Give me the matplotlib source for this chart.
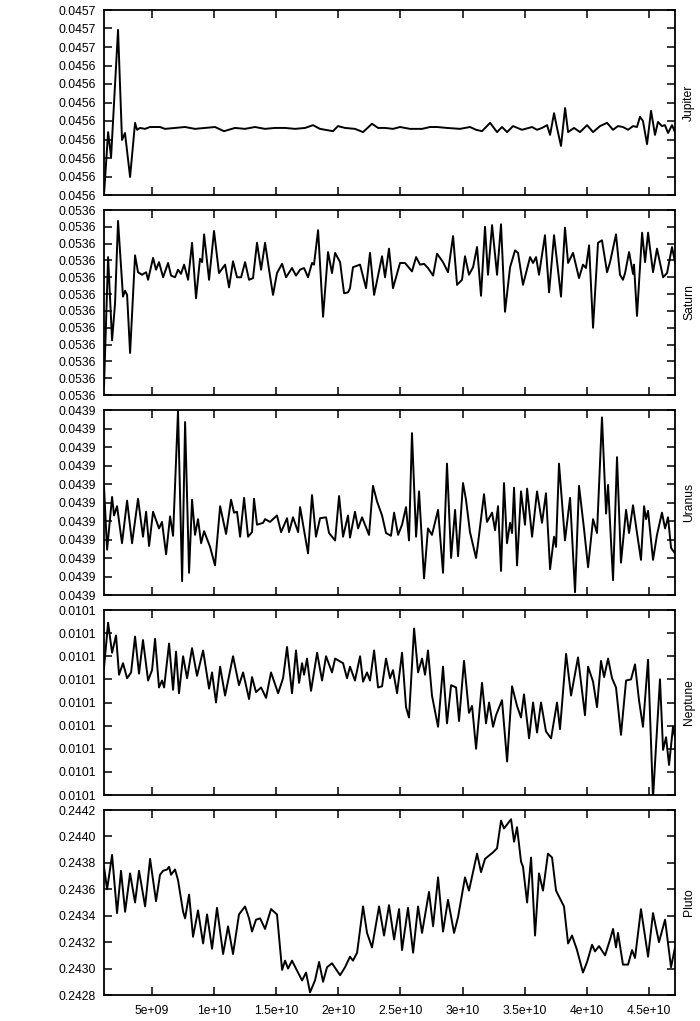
import numpy as np
import matplotlib
matplotlib.use("Agg")
import matplotlib.pyplot as plt
from matplotlib.ticker import FormatStrFormatter, FuncFormatter

plt.rcParams['font.family'] = ['Liberation Sans', 'DejaVu Sans']
plt.rcParams['font.size'] = 8.7

# time in units of 1e9, values of the first four planets as offsets (1e-6) above a base
jupiter_t = [1.13, 1.46, 1.70, 2.26, 2.58, 2.82, 3.23, 3.63, 3.79, 4.03, 4.43, 4.84, 5.64, 6.04, 6.85,
             7.65, 8.46, 9.26, 10.07, 10.79, 11.68, 12.48, 13.29, 14.09, 14.90, 15.70, 16.51, 17.32,
             17.96, 18.52, 19.57, 19.97, 20.54, 21.34, 21.99, 22.71, 23.20, 23.76, 24.40, 24.97, 25.77,
             26.74, 27.38, 27.95, 28.75, 29.80, 30.60, 31.09, 31.57, 32.22, 32.78, 33.18, 33.59, 34.07,
             34.79, 35.60, 36.00, 36.40, 36.81, 37.05, 37.37, 37.61, 37.93, 38.26, 38.50, 38.98, 39.46,
             40.03, 40.51, 41.07, 41.64, 42.12, 42.52, 42.92, 43.33, 43.73, 44.05, 44.29, 44.53, 44.86,
             45.18, 45.50, 45.74, 46.06, 46.30, 46.55, 46.87, 47.11]
jupiter_dev = [0, 13.6, 8.2, 35.7, 11.9, 13.4, 3.9, 15.6, 14.1, 14.5, 14.3, 14.7, 14.7, 14.3, 14.5,
               14.7, 14.3, 14.5, 14.7, 13.8, 14.5, 14.3, 14.7, 14.3, 14.5, 14.5, 14.3, 14.5,
               15.1, 14.3, 13.8, 14.9, 14.5, 14.3, 13.6, 15.4, 14.5, 14.5, 14.3, 14.7, 14.3,
               14.3, 14.7, 14.7, 14.5, 14.3, 14.7, 14.1, 13.8, 15.6, 13.6, 14.7, 13.6, 14.9,
               14.1, 14.7, 14.1, 14.5, 15.1, 13.0, 17.7, 14.5, 10.6, 18.8, 13.6, 14.5, 13.6,
               15.1, 13.6, 14.9, 15.6, 14.1, 14.9, 14.7, 14.1, 14.9, 14.7, 16.9, 16.0, 11.0,
               18.2, 13.0, 15.8, 14.9, 15.1, 13.4, 15.1, 13.6]

saturn_t = [1.13, 1.46, 1.78, 2.02, 2.26, 2.66, 2.83, 2.99, 3.23, 3.63, 3.87, 4.19, 4.52, 4.68, 5.08,
            5.32, 5.56, 5.89, 6.29, 6.53, 6.85, 7.09, 7.33, 7.58, 7.90, 8.22, 8.54, 8.86, 9.03, 9.19,
            9.59, 9.99, 10.39, 10.88, 11.20, 11.52, 11.84, 12.17, 12.49, 12.81, 13.13, 13.45, 13.78,
            14.10, 14.42, 14.74, 15.06, 15.47, 15.79, 16.27, 16.59, 16.92, 17.24, 17.56, 17.88, 18.04,
            18.37, 18.77, 19.17, 19.49, 19.74, 20.14, 20.46, 20.78, 20.94, 21.18, 21.75, 22.23, 22.55,
            22.88, 23.52, 23.76, 24.08, 24.40, 24.97, 25.37, 25.93, 26.26, 26.58, 26.90, 27.22, 27.63,
            27.95, 28.43, 28.83, 29.24, 29.56, 29.96, 30.20, 30.52, 30.85, 31.17, 31.49, 31.81, 32.05,
            32.38, 32.78, 33.10, 33.42, 33.83, 34.23, 34.47, 34.87, 35.44, 35.68, 35.92, 36.16, 36.64,
            36.97, 37.37, 37.93, 38.25, 38.50, 38.90, 39.38, 39.70, 39.94, 40.19, 40.51, 40.91, 41.23,
            41.64, 41.88, 42.36, 42.68, 42.92, 43.09, 43.41, 43.73, 43.81, 44.05, 44.46, 44.70, 44.94,
            45.34, 45.66, 46.15, 46.47, 46.87, 47.11]
saturn_dev = [1.0, 16.4, 6.5, 10.9, 20.7, 11.7, 12.4, 11.9, 5.0, 16.6, 14.6, 14.3, 14.6, 13.7, 16.3,
              14.9, 15.8, 14.0, 15.7, 14.2, 14.0, 14.9, 14.4, 15.5, 13.7, 18.1, 11.5, 16.2, 15.8, 19.1,
              13.7, 19.5, 14.5, 15.5, 12.8, 15.9, 14.0, 14.0, 15.8, 13.7, 13.9, 18.1, 14.9,
              18.1, 14.9, 11.9, 14.5, 15.6, 14.0, 15.1, 14.2, 14.9, 15.1, 14.0, 15.7, 15.5,
              19.6, 9.3, 17.0, 14.5, 16.9, 15.8, 12.1, 12.2, 12.7, 15.2, 15.5, 12.7, 16.9,
              11.9, 16.5, 14.0, 17.4, 12.7, 15.7, 15.7, 14.7, 16.4, 15.5, 15.6, 15.1, 14.2,
              16.8, 15.8, 14.6, 18.9, 13.1, 13.7, 16.5, 14.3, 15.2, 17.6, 11.8, 20.0, 14.3,
              20.2, 14.3, 20.3, 9.9, 15.2, 17.2, 16.9, 13.1, 16.4, 15.7, 16.4, 14.3, 19.0,
              12.2, 19.0, 11.7, 19.9, 15.7, 16.9, 13.9, 15.5, 15.1, 17.8, 8.0, 18.1, 18.4,
              14.6, 15.8, 19.1, 14.3, 13.7, 14.5, 17.0, 14.4, 15.5, 9.4, 19.3, 15.8, 19.3,
              14.6, 17.4, 14.0, 14.5, 17.6, 15.8]

uranus_t = [1.13, 1.38, 1.78, 1.94, 2.18, 2.58, 2.99, 3.39, 3.87, 4.27, 4.52, 4.76, 5.08, 5.56, 5.80,
            6.13, 6.45, 6.69, 7.09, 7.42, 7.66, 7.98, 8.22, 8.46, 8.70, 8.95, 9.19, 9.67, 10.07, 10.48,
            10.96, 11.36, 11.60, 11.84, 12.09, 12.41, 12.73, 13.05, 13.21, 13.45, 13.94, 14.10, 14.50,
            15.06, 15.39, 15.87, 16.03, 16.35, 16.76, 16.92, 17.24, 17.56, 17.88, 18.20, 18.53, 19.01,
            19.25, 19.74, 20.06, 20.38, 20.78, 20.94, 21.34, 21.59, 21.91, 22.47, 22.79, 23.12, 23.52,
            23.84, 24.24, 24.49, 24.81, 25.13, 25.45, 25.69, 25.93, 26.26, 26.50, 26.90, 27.22, 27.54,
            28.03, 28.43, 28.75, 29.08, 29.40, 29.64, 30.04, 30.28, 30.60, 31.09, 31.25, 31.73, 31.97,
            32.38, 32.62, 32.86, 33.10, 33.34, 33.58, 33.83, 33.99, 34.15, 34.39, 34.71, 35.03, 35.20,
            35.60, 36.00, 36.40, 36.72, 37.05, 37.37, 37.53, 37.77, 38.25, 38.66, 39.06, 39.38, 39.78,
            40.11, 40.51, 40.83, 41.23, 41.56, 41.72, 42.12, 42.44, 42.76, 43.17, 43.41, 43.73, 44.05,
            44.37, 44.62, 44.78, 44.94, 45.34, 45.66, 46.06, 46.31, 46.55, 46.79, 47.11]
uranus_dev = [11.7, 4.9, 10.6, 8.6, 9.6, 5.6, 10.2, 5.6, 10.4, 6.3, 9.0, 5.3, 9.0, 7.2, 7.9,
              4.4, 8.5, 6.4, 19.9, 1.5, 18.7, 2.4, 10.3, 6.5, 8.2, 5.6, 6.9, 5.2, 3.2, 9.6,
              6.6, 10.3, 8.9, 9.0, 6.3, 10.5, 6.3, 6.8, 10.4, 7.6, 7.8, 8.2, 7.9,
              8.6, 6.8, 8.3, 6.8, 8.4, 6.8, 9.5, 7.0, 4.5, 10.8, 6.3, 8.3, 8.4,
              6.7, 5.9, 10.7, 6.3, 8.6, 6.2, 9.0, 7.2, 8.4, 6.5, 11.8, 10.1, 8.6,
              6.7, 6.4, 8.9, 6.5, 7.6, 9.5, 5.9, 17.5, 6.3, 11.2, 1.8, 7.2, 6.5,
              9.2, 2.4, 14.2, 4.0, 9.2, 4.2, 12.1, 10.3, 6.8, 4.0, 5.6, 10.9, 7.9,
              8.9, 7.0, 9.6, 2.6, 12.1, 5.6, 7.8, 6.7, 11.6, 3.2, 11.2, 7.6, 11.5,
              6.3, 11.2, 7.8, 11.0, 2.8, 6.3, 5.2, 14.2, 5.9, 10.5, 0.3, 11.8, 7.2,
              3.0, 8.2, 6.7, 19.2, 8.8, 11.9, 1.6, 14.9, 3.5, 9.2, 6.7, 9.7, 6.7,
              3.8, 9.6, 8.2, 9.1, 3.8, 6.5, 8.9, 7.2, 8.4, 5.1, 4.5]

neptune_t = [1.13, 1.46, 1.78, 2.10, 2.34, 2.66, 2.99, 3.31, 3.63, 3.95, 4.27, 4.68, 5.00, 5.24, 5.56,
             5.80, 5.97, 6.37, 6.69, 6.93, 7.17, 7.50, 7.82, 8.22, 8.62, 9.11, 9.59, 9.83, 10.15, 10.48,
             10.88, 11.52, 12.00, 12.33, 12.81, 13.05, 13.37, 13.78, 14.18, 14.58, 15.15, 15.55, 15.87,
             16.27, 16.59, 16.84, 17.08, 17.24, 17.48, 17.80, 18.29, 18.69, 19.01, 19.49, 19.74, 20.38,
             20.70, 20.94, 21.34, 21.75, 21.99, 22.31, 22.55, 22.88, 23.20, 23.52, 23.84, 24.16, 24.40,
             24.73, 25.13, 25.45, 25.69, 26.10, 26.42, 26.74, 26.98, 27.22, 27.54, 28.03, 28.43, 28.75,
             29.08, 29.48, 29.72, 30.12, 30.52, 30.77, 31.09, 31.57, 31.89, 32.14, 32.46, 32.70, 33.18,
             33.59, 33.99, 34.39, 34.71, 34.95, 35.36, 35.68, 36.00, 36.32, 36.72, 37.13, 37.61, 37.85,
             38.34, 38.74, 39.30, 39.86, 40.11, 40.51, 40.83, 41.15, 41.40, 41.72, 42.04, 42.36, 42.76,
             43.17, 43.57, 43.89, 44.21, 44.53, 44.94, 45.34, 45.58, 45.90, 46.15, 46.39, 46.63, 46.95,
             47.11]
neptune_dev = [11.0, 14.9, 12.3, 13.8, 10.4, 11.4, 10.1, 10.6, 13.7, 10.5, 13.4, 9.9, 10.8, 13.5, 9.3,
               9.9, 9.3, 13.1, 9.1, 12.4, 8.8, 12.0, 10.1, 12.7, 10.3, 12.5, 9.2, 10.6, 8.0, 11.1,
               8.6, 12.0, 9.5, 10.6, 8.3, 10.2, 8.9, 9.3, 8.4, 10.6, 8.8, 10.1, 12.8,
               8.8, 12.5, 9.7, 11.4, 10.4, 11.8, 9.0, 12.3, 9.9, 12.0, 10.6, 11.8, 11.4,
               10.1, 11.1, 9.9, 12.0, 9.8, 10.6, 9.9, 12.5, 9.3, 9.4, 11.8, 10.1, 10.8,
               8.8, 12.3, 7.6, 6.7, 14.4, 10.6, 11.8, 10.4, 12.5, 8.6, 5.9, 11.1, 6.2,
               9.5, 9.3, 6.4, 11.6, 7.1, 7.7, 4.0, 9.7, 6.2, 8.0, 5.9, 6.9, 8.2,
               2.9, 9.4, 7.7, 6.7, 8.7, 4.9, 8.0, 5.4, 8.0, 5.5, 4.9, 8.0, 5.7,
               12.2, 8.6, 11.9, 6.9, 11.1, 9.8, 7.6, 11.6, 10.2, 11.8, 10.1, 9.3, 5.2,
               9.9, 10.0, 11.3, 8.2, 5.9, 11.7, -0.3, 4.2, 10.0, 3.9, 5.0, 2.6, 5.9,
               5.0]

pluto_t = [1.13, 1.38, 1.78, 2.18, 2.50, 2.83, 3.23, 3.63, 3.95, 4.44, 4.84, 5.32, 5.64, 5.89, 6.21,
           6.37, 6.53, 6.85, 7.09, 7.50, 7.66, 7.98, 8.30, 8.70, 9.11, 9.43, 9.83, 10.23, 10.72, 11.12,
           11.52, 12.00, 12.49, 12.81, 13.05, 13.37, 13.70, 14.10, 14.58, 15.06, 15.47, 15.71, 15.95,
           16.27, 16.59, 17.08, 17.40, 17.72, 18.12, 18.45, 18.77, 19.09, 19.49, 20.14, 20.54, 20.94,
           21.18, 21.51, 21.99, 22.31, 22.71, 23.28, 23.68, 24.08, 24.49, 24.89, 25.13, 25.61, 26.02,
           26.42, 26.74, 27.30, 27.63, 28.03, 28.43, 28.83, 29.32, 29.64, 30.20, 30.52, 31.17, 31.49,
           31.81, 32.46, 32.78, 33.10, 33.34, 33.91, 34.15, 34.39, 34.71, 34.87, 35.20, 35.52, 35.84,
           36.16, 36.48, 36.88, 37.21, 37.53, 38.17, 38.50, 38.82, 39.22, 39.70, 40.03, 40.43, 40.67,
           40.99, 41.48, 41.88, 42.12, 42.36, 42.52, 42.92, 43.33, 43.65, 43.89, 44.37, 44.94, 45.34,
           45.82, 46.31, 46.79, 47.11]
pluto_val = [0.24377, 0.24360, 0.24386, 0.24342, 0.24374, 0.24343, 0.24372, 0.24350, 0.24374, 0.24347,
             0.24383, 0.24351, 0.24371, 0.24374, 0.24375, 0.24377, 0.24371, 0.24375, 0.24367, 0.24343,
             0.24338, 0.24356, 0.24324, 0.24344, 0.24319, 0.24341, 0.24315, 0.24346, 0.24311, 0.24332,
             0.24311, 0.24341, 0.24347, 0.24338, 0.24328, 0.24337, 0.24338, 0.24330, 0.24345, 0.24341,
             0.24299, 0.24306, 0.24300, 0.24306, 0.24300, 0.24291, 0.24297, 0.24282, 0.24291, 0.24305,
             0.24290, 0.24301, 0.24304, 0.24295, 0.24301, 0.24309, 0.24306, 0.24312, 0.24347, 0.24327,
             0.24316, 0.24347, 0.24325, 0.24348, 0.24322, 0.24345, 0.24314, 0.24346, 0.24312, 0.24347,
             0.24327, 0.24358, 0.24332, 0.24369, 0.24328, 0.24352, 0.24327, 0.24339, 0.24369, 0.24359,
             0.24387, 0.24373, 0.24383, 0.24388, 0.24391, 0.24412, 0.24406, 0.24413, 0.24396, 0.24407,
             0.24381, 0.24377, 0.24350, 0.24384, 0.24325, 0.24372, 0.24359, 0.24387, 0.24384, 0.24359,
             0.24347, 0.24319, 0.24325, 0.24314, 0.24297, 0.24305, 0.24318, 0.24313, 0.24317, 0.24310,
             0.24322, 0.24330, 0.24316, 0.24327, 0.24303, 0.24303, 0.24314, 0.24308, 0.24345, 0.24309,
             0.24342, 0.24320, 0.24337, 0.24301, 0.24316]

names = ['Jupiter', 'Saturn', 'Uranus', 'Neptune', 'Pluto']
# axis base, tick step, number of tick intervals
y_base = [0.045621, 0.053590, 0.043860, 0.010060, 0.2428]
y_step = [4e-6, 2e-6, 2e-6, 2e-6, 0.0002]
y_nint = [10, 11, 10, 8, 7]

series_t = [jupiter_t, saturn_t, uranus_t, neptune_t, pluto_t]
series_y = [np.array(jupiter_dev) * 1e-6 + y_base[0],
            np.array(saturn_dev) * 1e-6 + y_base[1],
            np.array(uranus_dev) * 1e-6 + y_base[2],
            np.array(neptune_dev) * 1e-6 + y_base[3],
            np.array(pluto_val)]

fig = plt.figure(figsize=(7, 10.21), dpi=100)
W, H = 700, 1021
tops = [10, 210, 410, 610, 810]
ph = 185

for i, name in enumerate(names):
    ax = fig.add_axes([104 / W, 1 - (tops[i] + ph) / H, 571 / W, ph / H])
    ax.plot(np.array(series_t[i]) * 1e9, series_y[i], color='black', lw=1.4,
            solid_joinstyle='round')
    ax.set_xlim(1.13e9, 4.711e10)
    ticks = y_base[i] + y_step[i] * np.arange(y_nint[i] + 1)
    ax.set_ylim(ticks[0], ticks[-1])
    ax.set_yticks(ticks)
    ax.yaxis.set_major_formatter(FormatStrFormatter('%.4f'))
    ax.set_xticks(np.arange(5e9, 4.6e10, 5e9))
    ax.xaxis.set_major_formatter(FuncFormatter(lambda v, p: '%g' % v))
    ax.tick_params(direction='in', top=True, right=True, length=6, width=1.1,
                   labelsize=8.7, pad=6)
    ax.tick_params(axis='x', labelbottom=(i == len(names) - 1), pad=7)
    for s in ax.spines.values():
        s.set_linewidth(1.3)
    ax.yaxis.set_label_position('right')
    ax.set_ylabel(name, fontsize=8.7, labelpad=6)

fig.savefig('out.png', dpi=100)
